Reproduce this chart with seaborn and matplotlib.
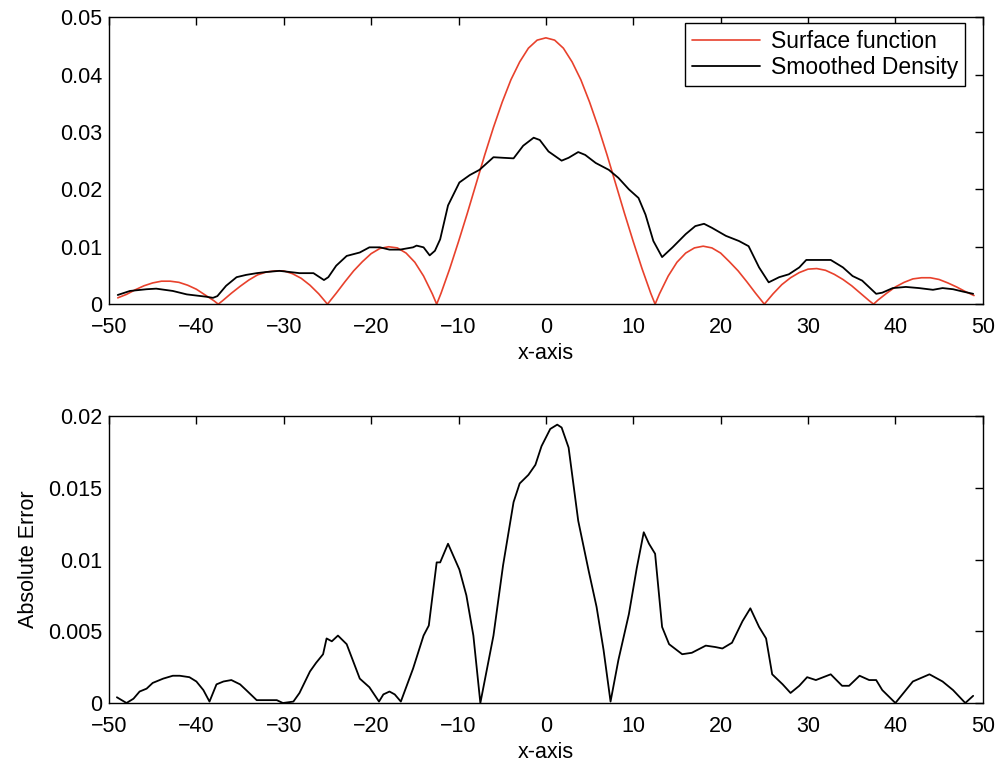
import pandas as pd
import seaborn as sns
import matplotlib.pyplot as plt

# Surface function (red curve)
surf_x = [-49, -48, -47, -46, -45, -44, -43, -42, -41, -40, -39, -38, -37.5,
          -37, -36, -35, -34, -33, -32, -31, -30, -29, -28, -27, -26, -25,
          -24, -23, -22, -21, -20, -19, -18, -17, -16, -15, -14, -13, -12.5,
          -12, -11, -10, -9, -8, -7, -6, -5, -4, -3, -2, -1, 0,
          1, 2, 3, 4, 5, 6, 7, 8, 9, 10, 11, 12, 12.5,
          13, 14, 15, 16, 17, 18, 19, 20, 21, 22, 23, 24, 25,
          26, 27, 28, 29, 30, 31, 32, 33, 34, 35, 36, 37, 37.5,
          38, 39, 40, 41, 42, 43, 44, 45, 46, 47, 48, 49]
surf_y = [0.0011, 0.0017, 0.0025, 0.0032, 0.0037, 0.0040, 0.0040, 0.0038, 0.0033, 0.0026, 0.0016, 0.0006, 0.0,
          0.0006, 0.0019, 0.0031, 0.0042, 0.0051, 0.0056, 0.0058, 0.0058, 0.0053, 0.0045, 0.0033, 0.0018, 0.0,
          0.0019, 0.0039, 0.0058, 0.0074, 0.0088, 0.0097, 0.0100, 0.0098, 0.0089, 0.0073, 0.0049, 0.0018, 0.0,
          0.0019, 0.0062, 0.0109, 0.0158, 0.0209, 0.0260, 0.0308, 0.0352, 0.0391, 0.0422, 0.0446, 0.0460, 0.0464,
          0.0460, 0.0446, 0.0422, 0.0391, 0.0352, 0.0308, 0.0260, 0.0209, 0.0158, 0.0109, 0.0062, 0.0019, 0.0,
          0.0018, 0.0049, 0.0073, 0.0089, 0.0098, 0.0101, 0.0098, 0.0089, 0.0074, 0.0058, 0.0039, 0.0019, 0.0,
          0.0018, 0.0034, 0.0046, 0.0055, 0.0061, 0.0062, 0.0059, 0.0052, 0.0043, 0.0032, 0.0019, 0.0006, 0.0,
          0.0007, 0.0019, 0.0030, 0.0038, 0.0044, 0.0046, 0.0046, 0.0043, 0.0037, 0.0030, 0.0022, 0.0015]

# Smoothed density (black curve, top panel)
dens_x = [-49.0, -47.6, -45.7, -44.6, -42.7, -41.1, -40.0, -38.9, -38.1, -37.6,
          -36.6, -35.4, -34.3, -33.1, -32.0, -30.5, -29.3, -28.2, -26.6, -25.9,
          -25.4, -24.9, -24.0, -22.8, -21.3, -20.2, -19.0, -17.9, -16.7, -15.2,
          -14.8, -14.0, -13.3, -12.7, -12.1, -11.2, -9.9, -8.7, -7.6, -6.0,
          -4.9, -3.7, -2.6, -1.4, -0.7, 0.3, 1.8, 2.6, 3.7, 4.5,
          5.7, 7.2, 8.3, 9.5, 10.6, 11.4, 12.3, 13.3, 14.5, 16.0,
          17.1, 18.1, 19.0, 20.6, 22.1, 23.2, 24.4, 25.5, 26.7, 27.8,
          29.0, 29.8, 31.3, 32.6, 34.0, 35.1, 36.2, 37.8, 38.5, 39.7,
          41.2, 42.7, 44.3, 45.4, 46.6, 47.7, 48.9]
dens_y = [0.0016, 0.0023, 0.0026, 0.0027, 0.0023, 0.0017, 0.0015, 0.0013, 0.0011, 0.0014,
          0.0032, 0.0047, 0.0051, 0.0054, 0.0056, 0.0058, 0.0056, 0.0054, 0.0054, 0.0047,
          0.0042, 0.0047, 0.0067, 0.0084, 0.0090, 0.0099, 0.0099, 0.0095, 0.0095, 0.0099,
          0.0102, 0.0099, 0.0085, 0.0093, 0.0113, 0.0172, 0.0212, 0.0225, 0.0234, 0.0256,
          0.0255, 0.0254, 0.0276, 0.0290, 0.0286, 0.0266, 0.0250, 0.0255, 0.0265, 0.0260,
          0.0246, 0.0234, 0.0220, 0.0200, 0.0185, 0.0156, 0.0110, 0.0082, 0.0099, 0.0122,
          0.0136, 0.0140, 0.0133, 0.0119, 0.0110, 0.0101, 0.0064, 0.0038, 0.0047, 0.0052,
          0.0064, 0.0077, 0.0077, 0.0077, 0.0064, 0.0049, 0.0041, 0.0018, 0.0020, 0.0028,
          0.0030, 0.0028, 0.0025, 0.0028, 0.0026, 0.0022, 0.0018]

# Absolute error (bottom panel)
err_x = [-49.1, -48.0, -47.2, -46.5, -45.7, -45.0, -43.8, -42.7, -41.9, -40.8,
         -40.0, -39.2, -38.5, -37.7, -36.9, -36.0, -35.0, -34.3, -33.1, -32.0,
         -30.8, -30.1, -28.9, -28.2, -27.0, -26.3, -25.5, -25.1, -24.5, -23.8,
         -22.8, -21.3, -20.2, -19.1, -18.6, -17.9, -17.3, -16.6, -15.2, -14.0,
         -13.4, -12.5, -12.1, -11.2, -9.9, -9.1, -8.3, -7.5, -6.0, -4.9,
         -3.7, -3.0, -2.0, -1.2, -0.5, 0.5, 1.3, 1.8, 2.6, 3.7,
         4.9, 5.8, 6.6, 7.4, 8.3, 9.5, 10.4, 11.2, 11.8, 12.5,
         13.3, 14.1, 15.6, 16.7, 18.3, 19.4, 20.2, 21.3, 22.5, 23.4,
         24.4, 25.2, 25.9, 27.1, 28.0, 29.0, 29.9, 30.9, 32.6, 33.9,
         34.7, 35.9, 37.0, 37.8, 38.5, 40.0, 42.0, 43.9, 45.4, 46.6,
         48.0, 48.9]
err_y = [0.0004, 0.0000, 0.0003, 0.0008, 0.0010, 0.0014, 0.0017, 0.0019, 0.0019, 0.0018,
         0.0015, 0.0009, 0.0001, 0.0013, 0.0015, 0.0016, 0.0013, 0.0009, 0.0002, 0.0002,
         0.0002, 0.0000, 0.0001, 0.0007, 0.0022, 0.0028, 0.0034, 0.0045, 0.0043, 0.0047,
         0.0041, 0.0017, 0.0011, 0.0001, 0.0006, 0.0008, 0.0006, 0.0001, 0.0024, 0.0047,
         0.0054, 0.0098, 0.0098, 0.0111, 0.0093, 0.0075, 0.0047, 0.0000, 0.0047, 0.0096,
         0.0140, 0.0153, 0.0159, 0.0166, 0.0179, 0.0191, 0.0194, 0.0192, 0.0178, 0.0127,
         0.0092, 0.0067, 0.0037, 0.0001, 0.0030, 0.0062, 0.0094, 0.0119, 0.0111, 0.0104,
         0.0053, 0.0041, 0.0034, 0.0035, 0.0040, 0.0039, 0.0038, 0.0042, 0.0057, 0.0066,
         0.0053, 0.0045, 0.0020, 0.0013, 0.0007, 0.0012, 0.0018, 0.0016, 0.0020, 0.0012,
         0.0012, 0.0019, 0.0016, 0.0016, 0.0009, 0.0000, 0.0015, 0.0020, 0.0015, 0.0009,
         0.0000, 0.0005]

x_ticks = [-50, -40, -30, -20, -10, 0, 10, 20, 30, 40, 50]
top_yticks = [0, 0.01, 0.02, 0.03, 0.04, 0.05]
top_ylabels = ['0', '0.01', '0.02', '0.03', '0.04', '0.05']
bot_yticks = [0, 0.005, 0.01, 0.015, 0.02]
bot_ylabels = ['0', '0.005', '0.01', '0.015', '0.02']

sns.set_theme(style="white")
plt.rcParams['font.family'] = ['Liberation Sans', 'DejaVu Sans']
plt.rcParams['text.color'] = 'black'
plt.rcParams['axes.labelcolor'] = 'black'
fs = 15.5

fig = plt.figure(figsize=(10.02, 7.7), dpi=100)
ax1 = fig.add_axes([0.1088, 0.605, 0.872, 0.3727])
ax2 = fig.add_axes([0.1088, 0.087, 0.872, 0.3727])

# Top panel
sns.lineplot(x=surf_x, y=surf_y, color='#e8412c', linewidth=1.2, label='Surface function', ax=ax1)
sns.lineplot(x=dens_x, y=dens_y, color='black', linewidth=1.3, label='Smoothed Density', ax=ax1)
ax1.set_ylim(0, 0.05)
ax1.set_yticks(top_yticks)
ax1.set_yticklabels(top_ylabels)
ax1.set_xlabel('x-axis', fontsize=fs, labelpad=4)
leg = ax1.legend(loc='upper right', bbox_to_anchor=(0.9794, 0.980), borderaxespad=0,
                 fancybox=False, edgecolor='black', framealpha=1, fontsize=16.5,
                 handlelength=3.0, handletextpad=0.45, borderpad=0.3, labelspacing=0.15)
leg.get_frame().set_linewidth(1.0)

# Bottom panel
sns.lineplot(x=err_x, y=err_y, color='black', linewidth=1.3, ax=ax2)
ax2.set_ylim(0, 0.02)
ax2.set_yticks(bot_yticks)
ax2.set_yticklabels(bot_ylabels)
ax2.set_xlabel('x-axis', fontsize=fs, labelpad=4)
ax2.set_ylabel('Absolute Error', fontsize=fs, labelpad=6)

for ax in (ax1, ax2):
    ax.set_xlim(-50, 50)
    ax.set_xticks(x_ticks)
    ax.tick_params(direction='in', top=True, right=True, length=6, width=1,
                   labelsize=fs, colors='black')
    ax.tick_params(axis='x', pad=9)
    ax.tick_params(axis='y', pad=5)
    for s in ax.spines.values():
        s.set_color('black')
        s.set_linewidth(1.0)

plt.savefig('out.png', dpi=100)
